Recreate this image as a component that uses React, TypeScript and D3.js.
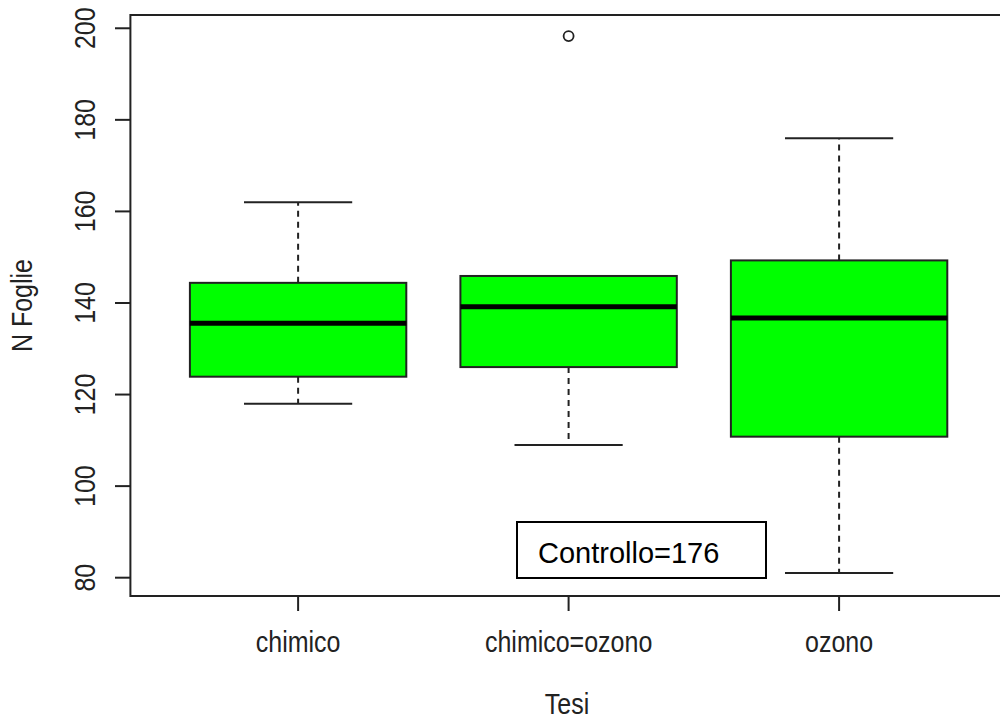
import React from "react";
import * as d3 from "d3";

const groups = ["chimico", "chimico=ozono", "ozono"];
const lowerWhisker = [118, 109, 81];
const q1 = [123.9, 126, 110.8];
const median = [135.6, 139.2, 136.7];
const q3 = [144.4, 145.9, 149.3];
const upperWhisker = [162, 145.9, 176];
const outliers = [[], [198.3], []];
const yTicks = [80, 100, 120, 140, 160, 180, 200];

const annotation = "Controllo=176";

const W = 1000;
const H = 722;
const font = "'Liberation Sans', Arial, Helvetica, sans-serif";
// glyphs in the reference are a bit taller than plain Arial
const stretch = "scale(1,1.17)";

const App = () => {
  // R style: xlim 0.5..3.5 expanded by 4%
  const x = d3.scaleLinear().domain([0.38, 3.62]).range([130.4, 1006.8]);
  const y = d3.scaleLinear().domain([76, 202.9]).range([596, 15]);
  const unit = x(2) - x(1);
  const boxW = unit * 0.8;
  const capW = unit * 0.4;
  const stroke = "#222";

  return (
    <svg
      width={W}
      height={H}
      style={{ position: "absolute", left: 0, top: 0, background: "#fff" }}
    >
      {/* frame */}
      <rect
        x={x(0.38)}
        y={y(202.9)}
        width={x(3.62) - x(0.38)}
        height={y(76) - y(202.9)}
        fill="none"
        stroke={stroke}
        strokeWidth={2}
      />

      {groups.map((g, i) => {
        const cx = x(i + 1);
        return (
          <g key={g}>
            <line
              x1={cx}
              x2={cx}
              y1={y(q3[i])}
              y2={y(upperWhisker[i])}
              stroke={stroke}
              strokeWidth={2}
              strokeDasharray="6,5"
            />
            <line
              x1={cx}
              x2={cx}
              y1={y(q1[i])}
              y2={y(lowerWhisker[i])}
              stroke={stroke}
              strokeWidth={2}
              strokeDasharray="6,5"
            />
            <line
              x1={cx - capW / 2}
              x2={cx + capW / 2}
              y1={y(upperWhisker[i])}
              y2={y(upperWhisker[i])}
              stroke={stroke}
              strokeWidth={2}
            />
            <line
              x1={cx - capW / 2}
              x2={cx + capW / 2}
              y1={y(lowerWhisker[i])}
              y2={y(lowerWhisker[i])}
              stroke={stroke}
              strokeWidth={2}
            />
            <rect
              x={cx - boxW / 2}
              y={y(q3[i])}
              width={boxW}
              height={y(q1[i]) - y(q3[i])}
              fill="#00ff00"
              stroke={stroke}
              strokeWidth={2}
            />
            <line
              x1={cx - boxW / 2}
              x2={cx + boxW / 2}
              y1={y(median[i])}
              y2={y(median[i])}
              stroke="#000"
              strokeWidth={5}
            />
            {outliers[i].map((v, j) => (
              <circle
                key={j}
                cx={cx}
                cy={y(v)}
                r={5}
                fill="none"
                stroke={stroke}
                strokeWidth={1.8}
              />
            ))}
          </g>
        );
      })}

      {/* y axis */}
      {yTicks.map((t) => (
        <g key={t}>
          <line x1={115} x2={130.4} y1={y(t)} y2={y(t)} stroke={stroke} strokeWidth={2} />
          <text
            transform={`translate(95,${y(t)}) rotate(-90) ${stretch}`}
            textAnchor="middle"
            fontFamily={font}
            fontSize={25}
            fill="#222"
          >
            {t}
          </text>
        </g>
      ))}

      {/* x axis */}
      {groups.map((g, i) => (
        <g key={g}>
          <line x1={x(i + 1)} x2={x(i + 1)} y1={596} y2={611} stroke={stroke} strokeWidth={2} />
          <text
            transform={`translate(${x(i + 1)},652) ${stretch}`}
            textAnchor="middle"
            fontFamily={font}
            fontSize={25}
            fill="#222"
          >
            {g}
          </text>
        </g>
      ))}

      <text
        transform={`translate(567,714) ${stretch}`}
        textAnchor="middle"
        fontFamily={font}
        fontSize={25}
        fill="#222"
      >
        Tesi
      </text>
      <text
        transform={`translate(32,${(15 + 596) / 2}) rotate(-90) ${stretch}`}
        textAnchor="middle"
        fontFamily={font}
        fontSize={25}
        fill="#222"
      >
        N Foglie
      </text>

      {/* annotation box */}
      <rect x={517} y={522} width={249} height={56} fill="#fff" stroke="#000" strokeWidth={2} />
      <text x={538} y={563} fontFamily={font} fontSize={29} fill="#000">
        {annotation}
      </text>
    </svg>
  );
};

export default App;
